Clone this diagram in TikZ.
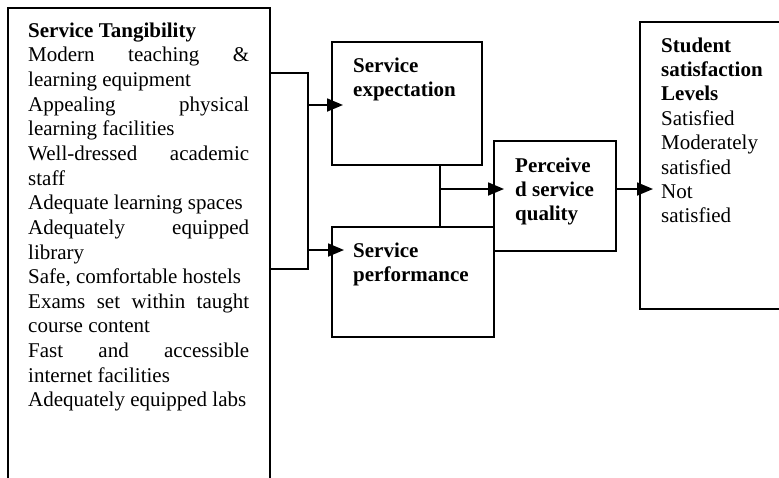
\documentclass[tikz,border=0pt]{standalone}
\usepackage{fontspec}
\setmainfont{Liberation Serif}
\usetikzlibrary{arrows.meta}
% a line spread out to the full column width (justified)
\newcommand\jline[1]{\makebox[221pt][s]{#1}}
\begin{document}
\begin{tikzpicture}[x=1pt,y=-1pt,
  box/.style={draw, rectangle, line width=1.8pt, inner sep=0pt, outer sep=0pt, anchor=north west},
  % the ragged alignment fixes the interword space; use the font's own space instead
  txt/.style={anchor=north west, inner sep=0pt, align=left, text width=#1,
              font=\fontsize{21}{24.4}\selectfont,
              execute at begin node={\spaceskip=0pt\xspaceskip=0pt}},
  txt/.default=200pt,
  link/.style={line width=1.8pt},
  arr/.style={link, -{Triangle[length=16pt,width=13pt]}}]
\useasboundingbox (0,0) rectangle (779,477);
\clip (0,0) rectangle (779,477);

% boxes
\node[box, minimum width=262pt, minimum height=485pt] (tan)  at (8,8)    {};
\node[box, minimum width=150pt, minimum height=123pt] (exp)  at (332,42) {};
\node[box, minimum width=162pt, minimum height=110pt] (perf) at (332,227) {};
\node[box, minimum width=122pt, minimum height=110pt] (perc) at (494,141) {};
\node[box, minimum width=160pt, minimum height=287pt] (stu)  at (640,22) {};

% box texts
\node[txt=230pt, font=\fontsize{21}{24.65}\selectfont] (tanT)
  at ([xshift=20pt,yshift=-11.7pt]tan.north west)
  {\strut\textbf{Service Tangibility}\\
   \jline{Modern teaching \&}\\
   learning equipment\\
   \jline{Appealing physical}\\
   learning facilities\\
   \jline{Well-dressed academic}\\
   staff\\
   Adequate learning spaces\\
   \jline{Adequately equipped}\\
   library\\
   Safe, comfortable hostels\\
   \jline{Exams set within taught}\\
   course content\\
   \jline{Fast and accessible}\\
   internet facilities\\
   Adequately equipped labs};
\node[txt=130pt] (expT) at ([xshift=21pt,yshift=-12.9pt]exp.north west)
  {\strut\textbf{Service}\\ \textbf{expectation}};
\node[txt=140pt] (perfT) at ([xshift=21pt,yshift=-12.9pt]perf.north west)
  {\strut\textbf{Service}\\ \textbf{performance}};
\node[txt=100pt] (percT) at ([xshift=21pt,yshift=-13.9pt]perc.north west)
  {\strut\textbf{Perceive}\\ \textbf{d service}\\ \textbf{quality}};
\node[txt=130pt] (stuT) at ([xshift=21pt,yshift=-12.9pt]stu.north west)
  {\strut\textbf{Student}\\ \textbf{satisfaction}\\ \textbf{Levels}\\
   Satisfied\\ Moderately\\ satisfied\\ Not\\ satisfied};

% junction points
\coordinate (busTop) at (308,73);
\coordinate (busBot) at (308,269);
\coordinate (ein) at ([xshift=11pt,yshift=-1.5pt]exp.west);
\coordinate (pin) at ([xshift=12pt,yshift=32pt]perf.west);
\coordinate (mj) at (440,189);
\coordinate (pq) at ([yshift=7pt]perc.east);

% tangibility feeds both expectation and performance
\draw[link] (tan.east |- busTop) -- (busTop) -- (busBot) -- (tan.east |- busBot);
\draw[arr] (busTop |- ein) -- (ein);
\draw[arr] (busTop |- pin) -- (pin);

% expectation and performance merge into perceived quality
\draw[link] (exp.south -| mj) -- (perf.north -| mj);
\draw[arr] (mj) -- ([xshift=10pt]perc.west |- mj);

% perceived quality leads to satisfaction levels
\draw[arr] (pq) -- ([xshift=13pt]stu.west |- pq);
\end{tikzpicture}
\end{document}
